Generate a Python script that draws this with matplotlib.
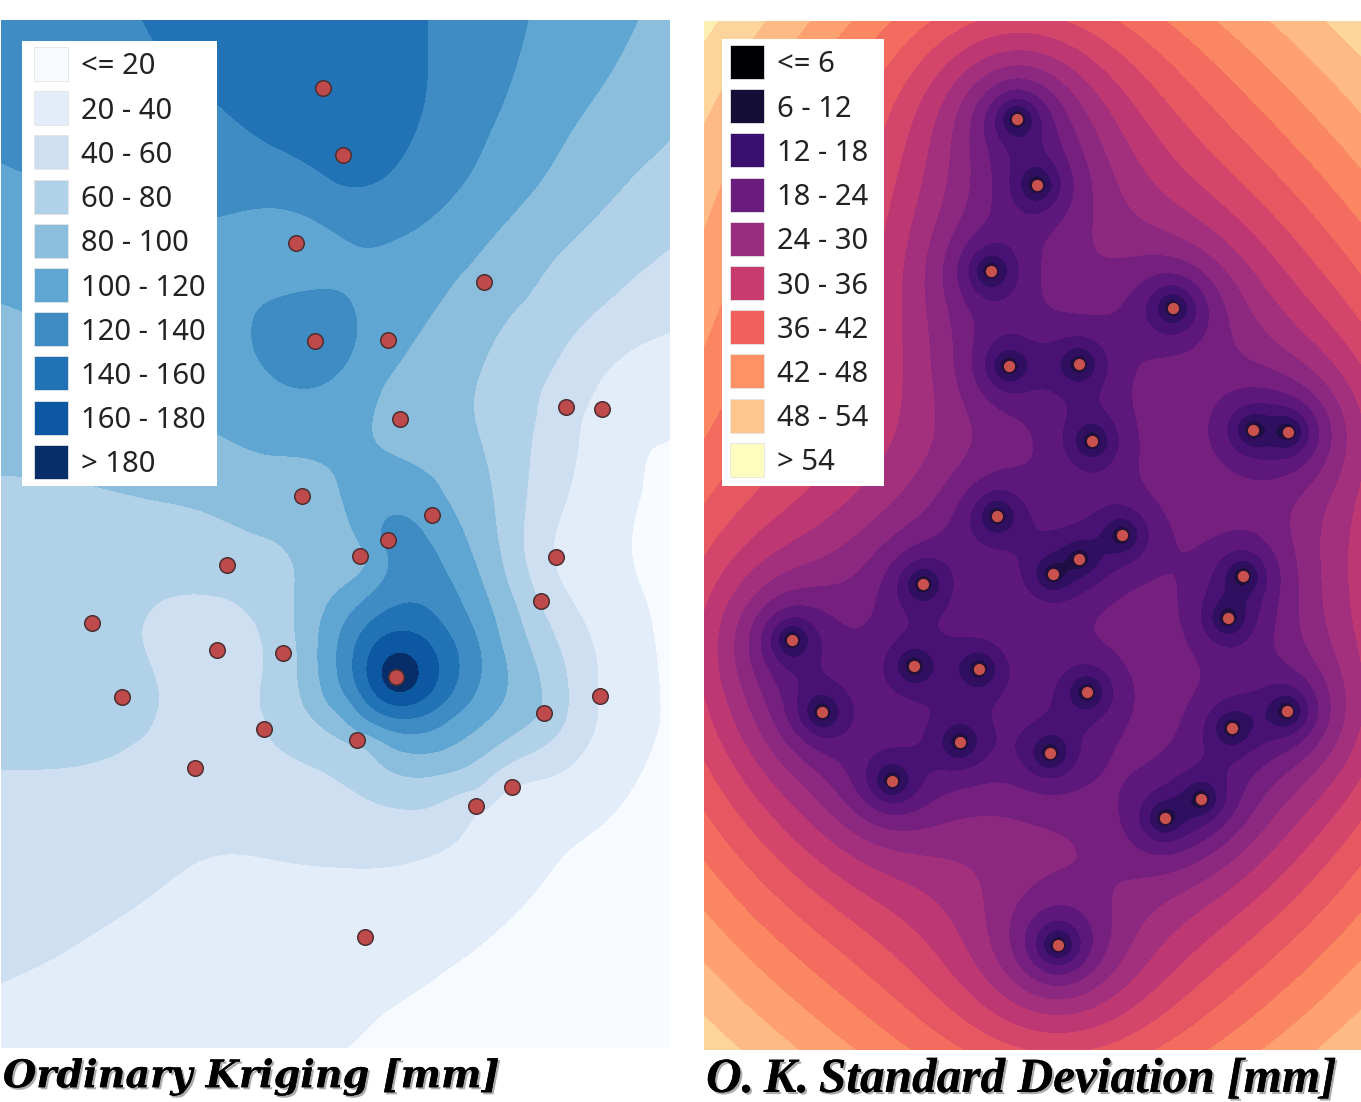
import numpy as np
import matplotlib
matplotlib.use('Agg')
import matplotlib.pyplot as plt
import matplotlib.patheffects as pe
from matplotlib.colors import LinearSegmentedColormap
from matplotlib.patches import Rectangle

# station positions (image pixels)
stn_x_l = [323, 343, 296, 484, 315, 388, 400, 566, 602, 302, 432, 388, 360, 556, 227,
           541, 92, 217, 283, 396, 122, 600, 544, 264, 357, 195, 512, 476, 365]
stn_y_l = [88, 155, 243, 282, 341, 340, 419, 407, 409, 496, 515, 540, 556, 557, 565,
           601, 623, 650, 653, 677, 697, 696, 713, 729, 740, 768, 787, 806, 937]
stn_v_l = [150, 146, 110, 90, 130, 108, 93, 45, 36, 88, 104, 124, 95, 39, 70,
           58, 66, 52, 68, 192, 62, 38, 78, 58, 80, 48, 41, 39, 30]

stn_x_r = [1017, 1037, 991, 1173, 1009, 1079, 1092, 1253, 1288, 997, 1122, 1079, 1053, 1243, 923,
           1228, 792, 914, 979, 1087, 822, 1287, 1232, 960, 1050, 892, 1201, 1165, 1058]
stn_y_r = [119, 185, 271, 308, 366, 364, 441, 430, 432, 516, 535, 559, 574, 576, 584,
           618, 640, 666, 669, 692, 712, 711, 728, 742, 753, 781, 799, 818, 945]

# where the class limits of the rainfall map cross (x, y)
iso_180 = [(382, 672), (418, 672), (400, 653), (400, 693)]
iso_160 = [(367, 669), (438, 665), (405, 632), (403, 705)]
iso_140a = [(143, 20), (153, 40), (217, 103), (267, 143), (340, 185), (360, 187), (383, 178),
            (407, 148), (423, 108), (428, 65), (427, 20)]
iso_140b = [(353, 665), (459, 665), (412, 603), (410, 718), (443, 626), (370, 623), (367, 703), (447, 699)]
iso_120a = [(0, 162), (30, 175), (120, 200), (217, 217), (277, 208), (340, 235), (363, 247), (397, 238),
            (437, 212), (467, 178), (487, 138), (507, 92), (520, 52), (528, 20)]
iso_120b = [(252, 332), (263, 305), (300, 292), (340, 292), (353, 308), (357, 332), (347, 362),
            (327, 382), (293, 387), (263, 365)]
iso_120c = [(380, 538), (400, 515), (420, 525), (437, 554), (460, 600), (480, 649), (477, 688), (450, 718),
            (417, 733), (380, 726), (353, 703), (337, 661), (347, 619), (377, 588), (388, 567), (387, 550)]
iso_100a = [(0, 303), (20, 310), (120, 380), (217, 433), (267, 455), (340, 495), (343, 500), (368, 563),
            (333, 596), (320, 626), (318, 665), (327, 703), (357, 738), (400, 751), (440, 751), (480, 726),
            (507, 684), (500, 642), (470, 550), (453, 505), (437, 482), (407, 462), (380, 448), (372, 422),
            (383, 385), (413, 342), (443, 298), (470, 265), (500, 228), (540, 182), (573, 128), (607, 78), (638, 20)]
iso_80 = [(670, 140), (640, 168), (600, 212), (557, 255), (527, 298), (493, 342), (477, 382), (475, 422),
          (487, 465), (495, 515), (500, 550), (517, 607), (538, 672), (533, 720), (487, 753), (440, 774),
          (413, 777), (380, 764), (365, 745), (340, 738), (317, 722), (300, 692), (295, 634), (295, 577),
          (287, 554), (253, 534), (200, 510), (153, 500), (70, 480), (0, 476)]
iso_60 = [(670, 248), (640, 272), (607, 302), (573, 335), (553, 368), (537, 415), (532, 438), (527, 488),
          (523, 546), (533, 588), (557, 642), (568, 699), (557, 734), (513, 761), (477, 791), (427, 808),
          (397, 808), (360, 795), (340, 783), (300, 761), (267, 738), (260, 707), (263, 653), (257, 626),
          (233, 601), (193, 594), (160, 601), (142, 626), (153, 669), (160, 699), (147, 734), (110, 757),
          (60, 768), (0, 769)]
iso_40 = [(670, 332), (633, 348), (603, 375), (587, 408), (577, 455), (567, 498), (553, 546), (557, 573),
          (580, 615), (597, 665), (598, 707), (587, 745), (553, 776), (527, 782), (503, 791), (487, 818),
          (457, 841), (417, 860), (370, 868), (340, 867), (300, 864), (227, 854), (193, 864), (147, 898),
          (100, 929), (50, 960), (0, 983)]
iso_20 = [(670, 442), (650, 448), (643, 488), (632, 550), (647, 603), (658, 672), (660, 718), (643, 768),
          (600, 826), (553, 868), (507, 921), (450, 967), (383, 1013), (347, 1048)]
# a few more spot readings away from the stations
spot_xy = [(1, 20), (280, 20), (670, 20), (150, 1040), (600, 1000), (668, 900), (668, 480)]
spot_v = [130, 155, 92, 28, 12, 10, 15]

iso_sets = [(180, iso_180), (160, iso_160), (140, iso_140a), (140, iso_140b), (120, iso_120a), (120, iso_120b),
            (120, iso_120c), (100, iso_100a), (80, iso_80), (60, iso_60), (40, iso_40), (20, iso_20)]

labels_l = ['<= 20', '20 - 40', '40 - 60', '60 - 80', '80 - 100', '100 - 120',
            '120 - 140', '140 - 160', '160 - 180', '> 180']
labels_r = ['<= 6', '6 - 12', '12 - 18', '18 - 24', '24 - 30', '30 - 36',
            '36 - 42', '42 - 48', '48 - 54', '> 54']
levels_l = [0, 20, 40, 60, 80, 100, 120, 140, 160, 180, 400]
colors_l = ['#f7fbff', '#e2edf9', '#cddff0', '#b0d1e7', '#8bbddc', '#60a6d2',
            '#3f8cc4', '#2272b6', '#0c58a2', '#082e69']
colors_r = ['#000004', '#140e36', '#3b0f70', '#6a1b7e', '#982d80', '#c83b6e',
            '#f1605d', '#fe9264', '#fec68f', '#fcfdbf']
levels_r = np.arange(0, 63, 3)


def tps(px, py, pv, gx, gy, lam=0.02):
    # thin plate spline through the readings
    px = np.asarray(px) / 100.0
    py = np.asarray(py) / 100.0
    n = len(px)
    d2 = (px[:, None] - px) ** 2 + (py[:, None] - py) ** 2
    K = 0.5 * d2 * np.log(d2 + 1e-12) + lam * np.eye(n)
    P = np.column_stack([np.ones(n), px, py])
    A = np.block([[K, P], [P.T, np.zeros((3, 3))]])
    w = np.linalg.solve(A, np.r_[pv, 0, 0, 0])
    qx = gx.ravel() / 100.0
    qy = gy.ravel() / 100.0
    out = np.zeros(qx.size)
    for s in range(0, qx.size, 20000):
        x = qx[s:s + 20000]
        y = qy[s:s + 20000]
        d = (x[:, None] - px) ** 2 + (y[:, None] - py) ** 2
        out[s:s + 20000] = (0.5 * d * np.log(d + 1e-12)) @ w[:n] + w[n] + w[n + 1] * x + w[n + 2] * y
    return out.reshape(gx.shape)


def krig_sd(px, py, gx, gy, a=12.0, p=0.86):
    # ordinary kriging standard deviation, power variogram
    px = np.asarray(px, float)
    py = np.asarray(py, float)
    n = len(px)
    A = np.ones((n + 1, n + 1))
    A[:n, :n] = a * np.hypot(px[:, None] - px, py[:, None] - py) ** p
    A[n, n] = 0
    Ai = np.linalg.inv(A)
    b = np.ones((gx.size, n + 1))
    b[:, :n] = a * np.hypot(gx.ravel()[:, None] - px, gy.ravel()[:, None] - py) ** p
    return np.sqrt(np.maximum(np.sum((b @ Ai) * b, axis=1), 0)).reshape(gx.shape)


def draw_legend(ax, box, sw_x, sw_y, text_x, labels, colors):
    x0, y0, w, h = box
    ax.add_patch(Rectangle((x0, y0), w, h, fc='white', ec='none', zorder=5))
    for i, (lab, col) in enumerate(zip(labels, colors)):
        yy = sw_y + i * 44.2
        ax.add_patch(Rectangle((sw_x, yy), 34, 34, fc=col, ec='#e4e4e4', lw=0.6, zorder=6))
        ax.text(text_x, yy + 20, lab, fontsize=21, family='Noto Sans', color='#222222',
                va='center', ha='left', zorder=7)


W, H = 1361, 1102
fig = plt.figure(figsize=(W / 100, H / 100), dpi=100)


def pixel_axes(x0, x1, y0, y1):
    ax = fig.add_axes([x0 / W, 1 - y1 / H, (x1 - x0) / W, (y1 - y0) / H])
    ax.set_xlim(x0, x1)
    ax.set_ylim(y1, y0)
    ax.axis('off')
    return ax


# left map
px = list(stn_x_l) + [p[0] for p in spot_xy]
py = list(stn_y_l) + [p[1] for p in spot_xy]
pv = list(stn_v_l) + list(spot_v)
for lev, pts in iso_sets:
    px += [p[0] for p in pts]
    py += [p[1] for p in pts]
    pv += [lev] * len(pts)

ax1 = pixel_axes(1, 670, 20, 1048)
gx, gy = np.meshgrid(np.linspace(1, 670, 335), np.linspace(20, 1048, 515))
zl = tps(px, py, np.array(pv, float), gx, gy)
ax1.contourf(gx, gy, np.clip(zl, 1, 399), levels=levels_l, colors=colors_l)
ax1.scatter(stn_x_l, stn_y_l, s=125, c='#bf4a4c', edgecolors='#4b2f33', linewidths=1.1, zorder=4)
draw_legend(ax1, (22, 41, 195, 445), 34, 47, 81, labels_l, colors_l)

# right map
ax2 = pixel_axes(704, 1361, 21, 1050)
gx2, gy2 = np.meshgrid(np.linspace(704, 1361, 330), np.linspace(21, 1050, 515))
zr = krig_sd(stn_x_r, stn_y_r, gx2, gy2)
cmap_r = LinearSegmentedColormap.from_list('sd', colors_r)
mids = (levels_r[:-1] + levels_r[1:]) / 2
ax2.contourf(gx2, gy2, np.clip(zr, 0.1, 59.9), levels=levels_r,
             colors=[cmap_r((m - 3) / 54) for m in mids])
ax2.scatter(stn_x_r, stn_y_r, s=80, c='#c9524f', edgecolors='#2a1030', linewidths=0.9, zorder=4)
draw_legend(ax2, (722, 39, 162, 447), 730, 45, 777, labels_r, colors_r)

# titles
shadow = [pe.withSimplePatchShadow(offset=(1.5, -1.5), shadow_rgbFace='#888888', alpha=0.7), pe.Normal()]
fig.text(3 / W, 1 - 1077 / H, 'Ordinary Kriging [mm]', fontsize=27.5, family='DejaVu Serif',
         style='italic', weight='bold', va='center', path_effects=shadow)
fig.text(706 / W, 1 - 1080 / H, 'O.\u2009K.\u2009Standard Deviation [mm]', fontsize=35.5, family='Liberation Serif',
         style='italic', weight='bold', va='center', path_effects=shadow)

fig.savefig('out.png', dpi=100)
